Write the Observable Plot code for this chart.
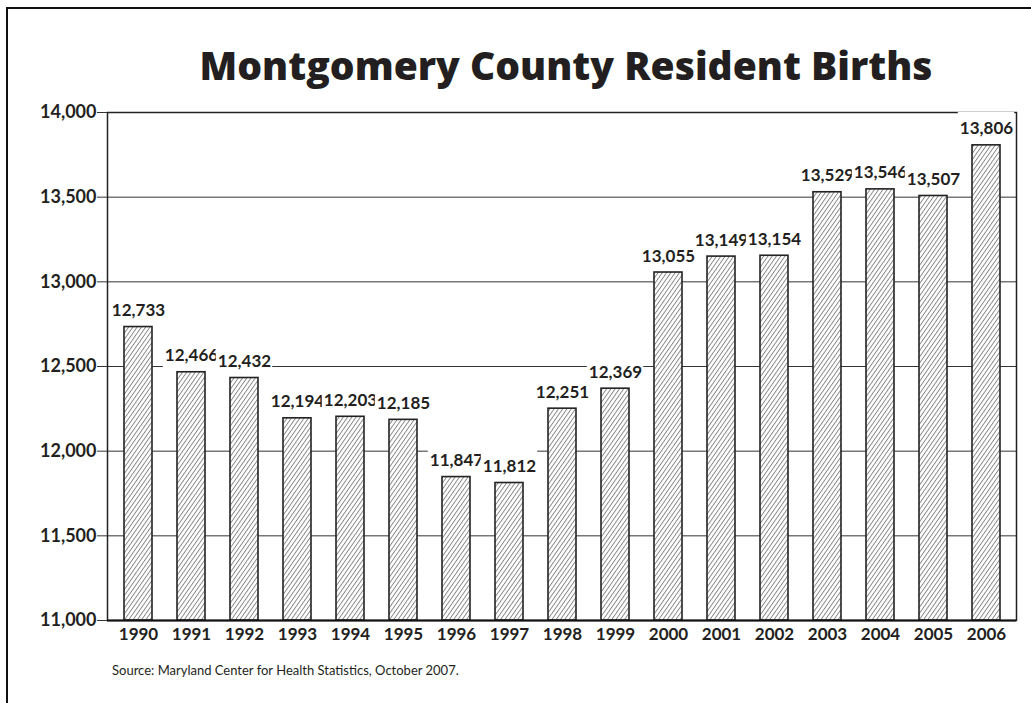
<!DOCTYPE html>
<html>
<head>
<meta charset="utf-8">
<script src="https://cdn.jsdelivr.net/npm/d3@7"></script>
<script src="https://cdn.jsdelivr.net/npm/@observablehq/plot@0.6"></script>
<style>
html, body { margin: 0; padding: 0; background: #fff; overflow: hidden; }
body { width: 1031px; height: 703px; position: relative; font-family: Lato, sans-serif; color: #231f20; }
#frame { position: absolute; left: 6px; top: 7px; width: 1200px; height: 900px; border: 2px solid #111; box-sizing: border-box; z-index: 5; pointer-events: none; }
#title { position: absolute; left: 0; top: 45px; width: 1132px; text-align: center; font-family: "Open Sans", sans-serif; font-weight: 800; font-size: 39px; line-height: 39px; white-space: nowrap; }
#chart { position: absolute; left: 0; top: 95px; }
#source { position: absolute; left: 112px; top: 664px; font-family: Lato, sans-serif; font-size: 13px; line-height: 13px; white-space: nowrap; }
</style>
</head>
<body>
<div id="title">Montgomery County Resident Births</div>
<div id="chart"></div>
<div id="source">Source: Maryland Center for Health Statistics, October 2007.</div>
<div id="frame"></div>
<script>
const years = ["1990", "1991", "1992", "1993", "1994", "1995", "1996", "1997", "1998", "1999", "2000", "2001", "2002", "2003", "2004", "2005", "2006"];
const births = [12733, 12466, 12432, 12194, 12203, 12185, 11847, 11812, 12251, 12369, 13055, 13149, 13154, 13529, 13546, 13507, 13806];
const yTicks = [11000, 11500, 12000, 12500, 13000, 13500, 14000];

const data = years.map((year, i) => ({year, births: births[i]}));
const fmt = d3.format(",");

// each label gets a white box drawn just before it, so later boxes clip earlier labels
const labelMarks = data.flatMap(d => [
  Plot.barY([d], {x: "year", y1: "births", y2: "births", fill: "white",
    insetTop: -33, insetBottom: 3, insetLeft: -14.2, insetRight: -14.2}),
  Plot.text([d], {x: "year", y: "births", text: r => fmt(r.births), dy: -11,
    lineAnchor: "bottom", fontSize: 17, fontWeight: "bold", fill: "#231f20"})
]);

const chart = Plot.plot({
  width: 1031,
  height: 555,
  marginTop: 17,
  marginBottom: 30,
  marginLeft: 107,
  marginRight: 15,
  style: {fontFamily: "Lato, sans-serif", color: "#231f20", background: "transparent", overflow: "visible"},
  x: {type: "band", domain: years, paddingInner: 0.48, paddingOuter: 0.245, axis: null},
  y: {domain: [11000, 14000], axis: null},
  marks: [
    Plot.ruleY(yTicks.slice(1), {stroke: "#333", strokeWidth: 1}),
    Plot.frame({stroke: "#222", strokeWidth: 1.5}),
    Plot.axisY({ticks: yTicks, tickFormat: d3.format(","), tickSize: 10, tickPadding: 1, fontSize: 18, fontWeight: "bold", label: null, stroke: "#333"}),
    Plot.axisX({tickSize: 0, tickPadding: 7, fontSize: 17, fontWeight: "bold", label: null}),
    Plot.barY(data, {x: "year", y1: 11000, y2: "births", fill: "url(#hatch)", stroke: "#222", strokeWidth: 1.6}),
    ...labelMarks,
    Plot.ruleY([11000], {stroke: "#111", strokeWidth: 2.2})
  ]
});

const defs = d3.select(chart).insert("defs", ":first-child");
const pat = defs.append("pattern")
  .attr("id", "hatch")
  .attr("patternUnits", "userSpaceOnUse")
  .attr("width", 3.5)
  .attr("height", 10)
  .attr("patternTransform", "rotate(35)");
pat.append("rect").attr("width", 3.5).attr("height", 10).attr("fill", "white");
pat.append("line").attr("x1", 0.5).attr("y1", 0).attr("x2", 0.5).attr("y2", 10)
  .attr("stroke", "#666").attr("stroke-width", 0.8);

document.getElementById("chart").appendChild(chart);
</script>
</body>
</html>
